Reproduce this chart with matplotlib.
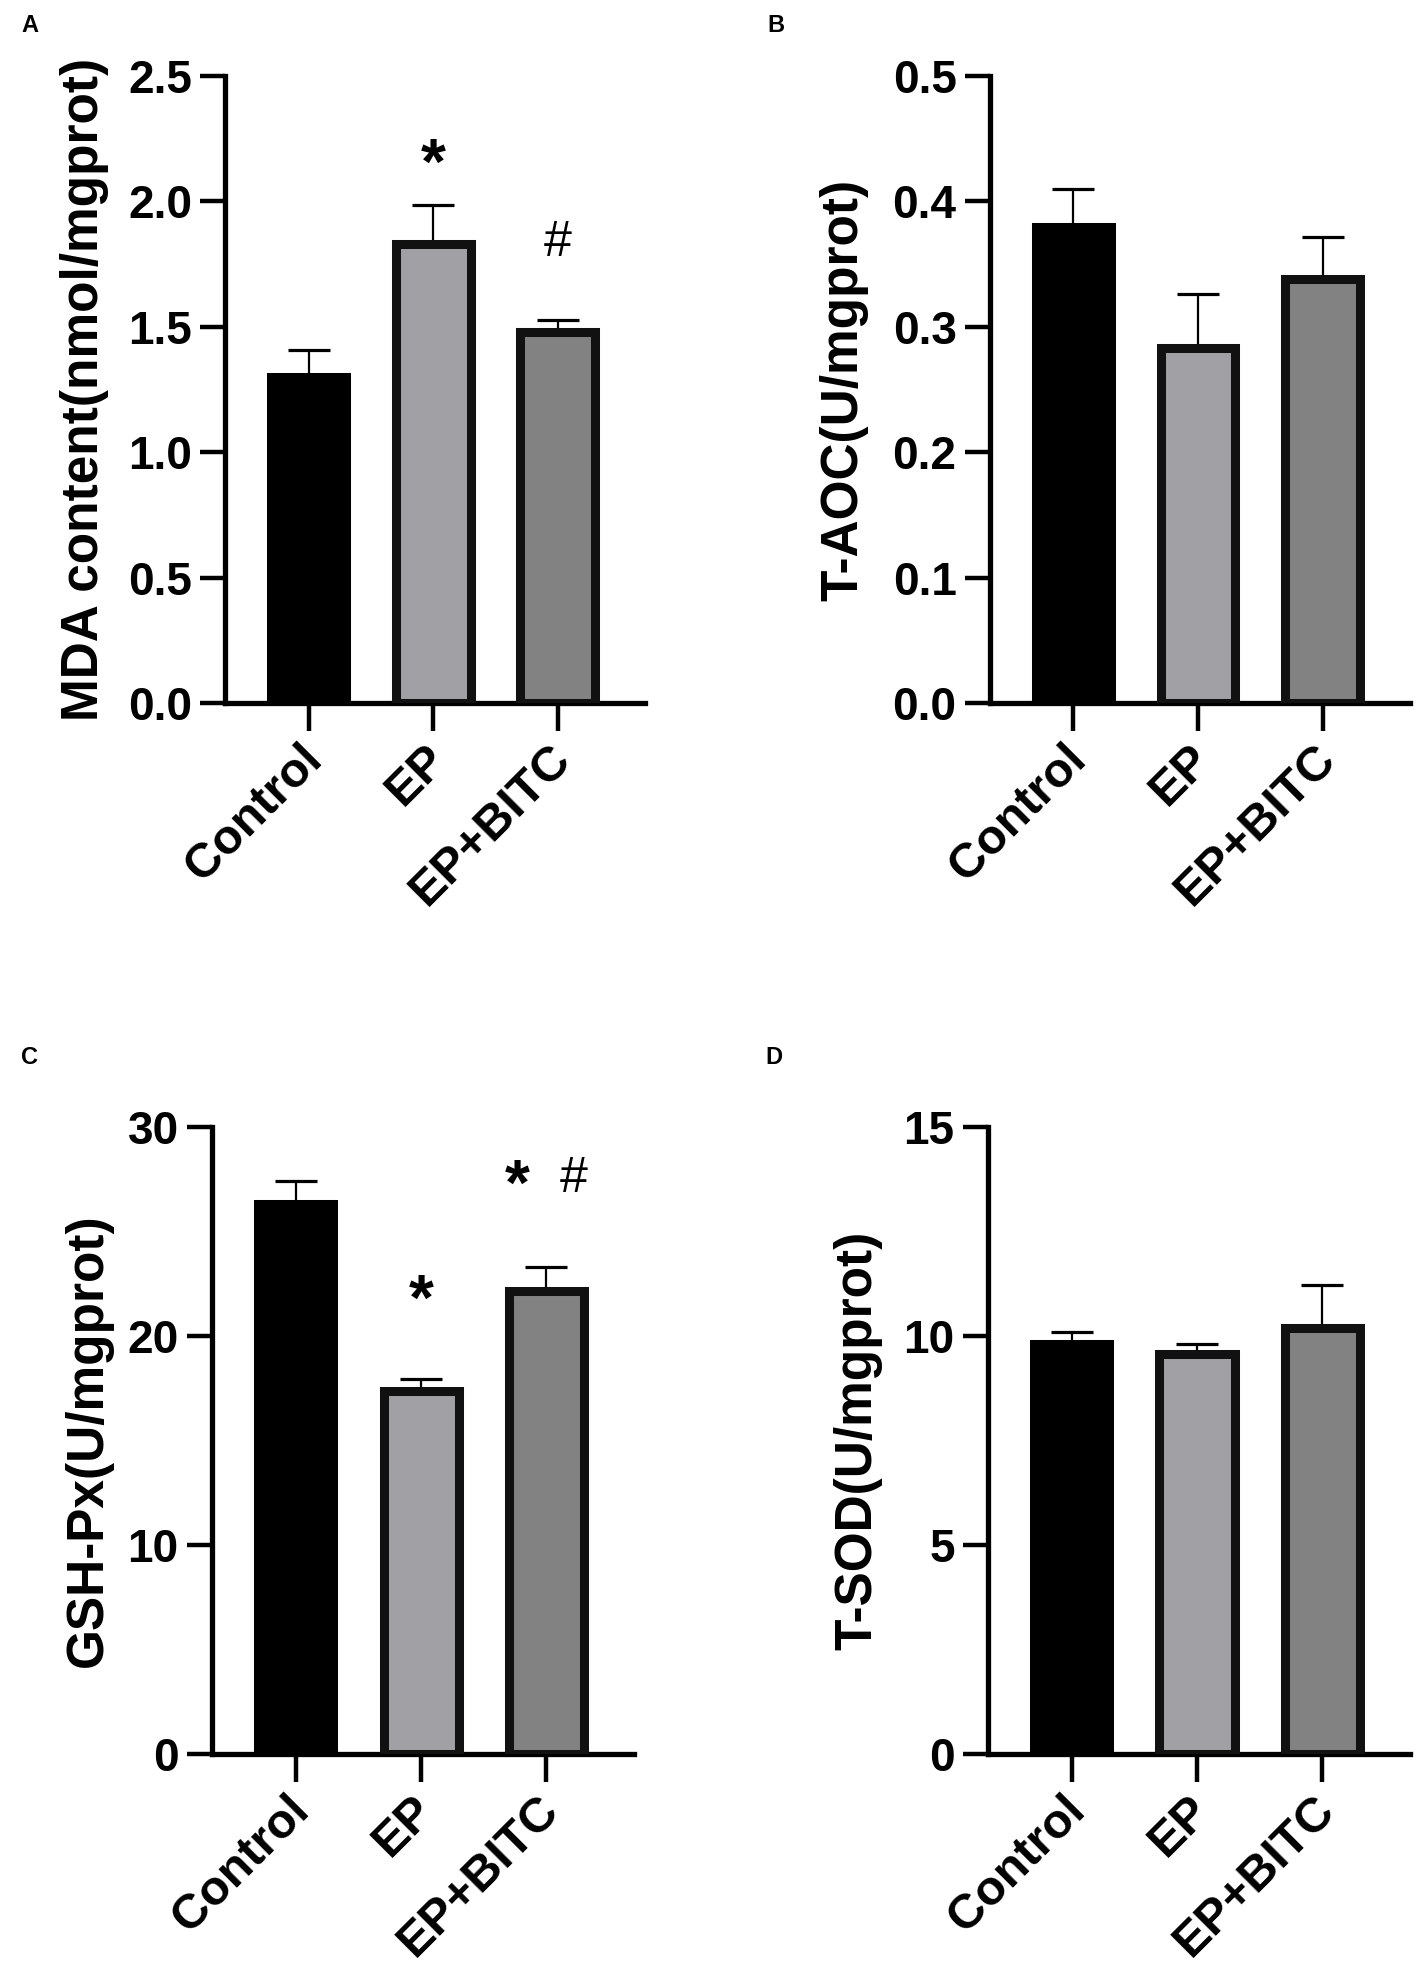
import numpy as np
import matplotlib
matplotlib.use('Agg')
import matplotlib.pyplot as plt
import matplotlib.transforms as mtransforms

plt.rcParams['font.family'] = ['Liberation Sans', 'DejaVu Sans']
plt.rcParams['font.weight'] = 'bold'

# data
groups = ['Control', 'EP', 'EP+BITC']
bar_colors = ['#000000', '#a1a1a5', '#828282']

mda_mean = [1.30, 1.83, 1.48]
mda_sem = [0.107, 0.155, 0.048]
taoc_mean = [0.380, 0.283, 0.338]
taoc_sem = [0.030, 0.043, 0.034]
gsh_mean = [26.3, 17.36, 22.14]
gsh_sem = [1.13, 0.59, 1.17]
sod_mean = [9.82, 9.57, 10.20]
sod_sem = [0.27, 0.23, 1.03]

# significance marks: (x position, y value, symbol)
mda_marks = [(1.0, 2.14, '*'), (2.0, 1.835, '#')]
gsh_marks = [(1.0, 21.6, '*'), (1.77, 27.1, '*'), (2.22, 27.5, '#')]

panels = [
    # letter, axes rect, mean, sem, ylim top, ticks, tick labels, ylabel, ylabel x, marks, letter pos
    ('A', [0.1582, 0.646, 0.2944, 0.3157], mda_mean, mda_sem, 2.5,
     [0, 0.5, 1.0, 1.5, 2.0, 2.5], ['0.0', '0.5', '1.0', '1.5', '2.0', '2.5'],
     'MDA content(nmol/mgprot)', -0.337, mda_marks, (30, 26)),
    ('B', [0.6947, 0.646, 0.2947, 0.3157], taoc_mean, taoc_sem, 0.5,
     [0, 0.1, 0.2, 0.3, 0.4, 0.5], ['0.0', '0.1', '0.2', '0.3', '0.4', '0.5'],
     'T-AOC(U/mgprot)', -0.348, [], (776, 26)),
    ('C', [0.1488, 0.1168, 0.2961, 0.3157], gsh_mean, gsh_sem, 30,
     [0, 10, 20, 30], ['0', '10', '20', '30'],
     'GSH-Px(U/mgprot)', -0.292, gsh_marks, (30, 1058)),
    ('D', [0.6933, 0.1168, 0.2961, 0.3157], sod_mean, sod_sem, 15,
     [0, 5, 10, 15], ['0', '5', '10', '15'],
     'T-SOD(U/mgprot)', -0.309, [], (774, 1058)),
]

W, H = 1425, 1986
fig = plt.figure(figsize=(W / 100, H / 100), dpi=100)

x = np.arange(len(groups))
shift = mtransforms.ScaledTranslation(6 / 100, -5 / 100, fig.dpi_scale_trans)

for letter, rect, mean, sem, top, ticks, ticklabels, ylabel, ylx, marks, lpos in panels:
    ax = fig.add_axes(rect)
    ax.bar(x, mean, width=0.60, color=bar_colors, edgecolor=['#000000', '#111111', '#111111'],
           linewidth=6.5, zorder=3)
    ax.errorbar(x, mean, yerr=[np.zeros(len(sem)), sem], fmt='none', ecolor='black',
                elinewidth=1.6, capsize=15, capthick=2.3, zorder=2)

    ax.set_xlim(-0.67, 2.70)
    ax.set_ylim(0, top)
    for s in ['top', 'right']:
        ax.spines[s].set_visible(False)
    for s in ['left', 'bottom']:
        ax.spines[s].set_linewidth(3.8)
    ax.spines['left'].set_bounds(0, top)

    ax.set_yticks(ticks)
    ax.set_yticklabels(ticklabels, fontsize=33, fontweight='bold')
    ax.tick_params(axis='y', length=18, width=3.2, pad=6)
    ax.set_xticks(x)
    ax.set_xticklabels(groups, rotation=45, ha='right', va='center',
                       rotation_mode='anchor', fontsize=35, fontweight='bold')
    ax.tick_params(axis='x', length=20, width=3.2, pad=12)
    for lab in ax.get_xticklabels():
        lab.set_transform(lab.get_transform() + shift)

    ax.text(ylx, 0.5, ylabel, transform=ax.transAxes, rotation=90,
            ha='center', va='center', fontsize=37, fontweight='bold')

    for mx, my, sym in marks:
        if sym == '*':
            ax.text(mx, my, sym, ha='center', va='center', fontsize=46, fontweight='bold')
        else:
            ax.text(mx, my, sym, ha='center', va='center', fontsize=36, fontweight='normal')

    fig.text(lpos[0] / W, 1 - lpos[1] / H, letter, ha='center', va='center',
             fontsize=17, fontweight='bold')

fig.savefig('out.png', dpi=100)
